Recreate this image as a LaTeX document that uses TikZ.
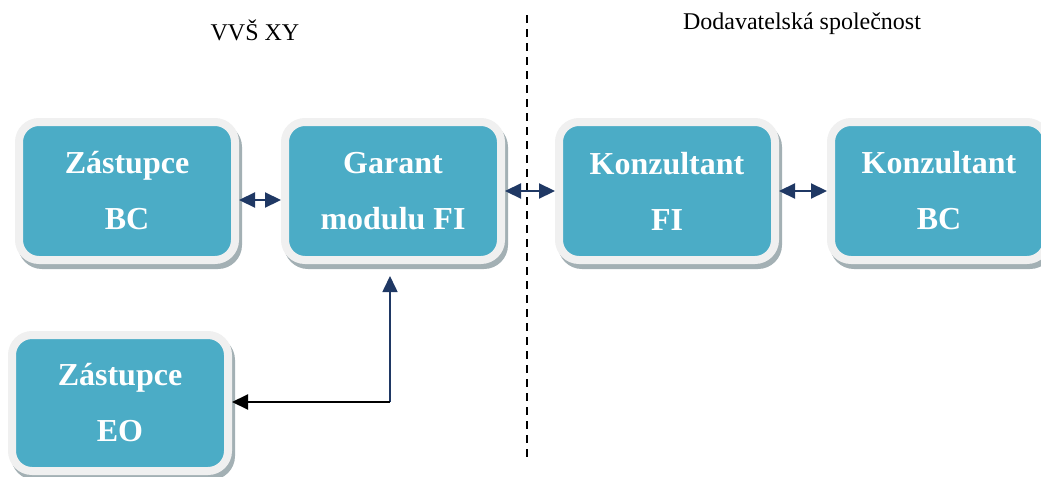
\documentclass[tikz,border=0pt]{standalone}
\usepackage{fontspec}
\setmainfont{Liberation Serif}
\usepackage{xcolor}
\usetikzlibrary{arrows.meta}
\definecolor{boxteal}{HTML}{4BACC6}
\definecolor{rimgray}{HTML}{F0F0F0}
\definecolor{shadegray}{HTML}{A3B0B4}
\definecolor{linknavy}{HTML}{1F3864}

\begin{document}
\begin{tikzpicture}[x=0.5pt,y=-0.5pt,
  role/.style={rounded corners=10pt,fill=boxteal,draw=rimgray,line width=4pt,
    minimum width=108pt,minimum height=69pt,text=white,align=center,
    font=\bfseries\fontsize{16}{28}\selectfont,
    preaction={fill=shadegray,draw=shadegray,transform canvas={shift={(1.5pt,-2.5pt)}}}},
  navylink/.style={draw=linknavy,line width=1.1pt,{Triangle[length=8pt,width=7.5pt]}-{Triangle[length=8pt,width=7.5pt]}},
  title/.style={font=\fontsize{12}{14}\selectfont}]
\useasboundingbox (0,0) rectangle (1041,477);
% zavaznost stran
\node[title] (vvs) at (255,30) {VVŠ XY};
\node[title] (dod) at (802,24) {Dodavatelská společnost};
\coordinate (divtop) at (527,15);
\coordinate (divbot) at (527,460);
\draw[line width=0.8pt,dash pattern=on 4pt off 3pt] (divtop) -- (divbot);
% role
\node[role] (zbc) at (127,191) {Zástupce\\BC};
\node[role] (gar) at (393,191) {Garant\\modulu FI};
\node[role] (kfi) at (667,191) {Konzultant\\FI};
\node[role] (kbc) at (939,191) {Konzultant\\BC};
\node[role,minimum height=68pt] (zeo) at (120,403) {Zástupce\\EO};
% vazby
\draw[navylink] ([yshift=-4.5pt]zbc.east) -- ([yshift=-4.5pt]gar.west);
\draw[navylink] (gar.east) -- (kfi.west);
\draw[navylink] (kfi.east) -- (kbc.west);
\coordinate (knee) at (390,402);
\draw[draw=linknavy,line width=0.8pt,-{Triangle[length=8pt,width=7.5pt]},shorten >=6pt] (knee) -- (gar.south -| knee);
\draw[line width=1pt,-{Triangle[length=8pt,width=7.5pt]}] (knee) -- (zeo.east |- knee);
\end{tikzpicture}
\end{document}
